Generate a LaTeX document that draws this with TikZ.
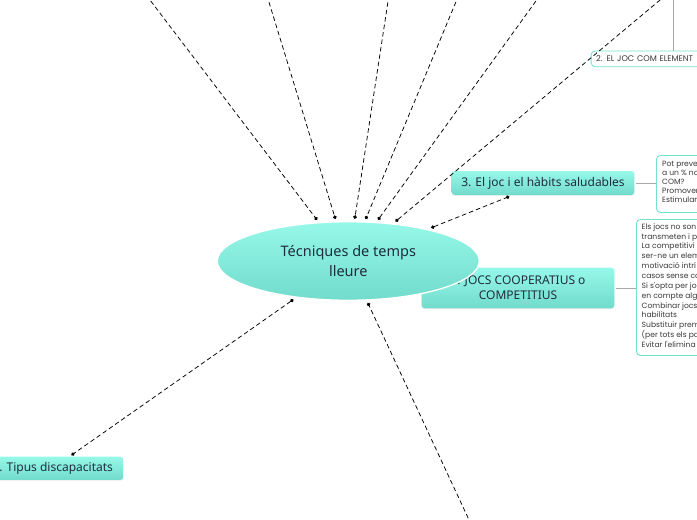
\documentclass[tikz,border=0pt]{standalone}
\usepackage{fontspec}
\setmainfont{Noto Sans}
\newfontfamily\smallfont{Poppins}
\usetikzlibrary{shapes.geometric,arrows.meta,shadows}
\definecolor{tqtop}{HTML}{96F8E8}
\definecolor{tqbot}{HTML}{72DBCC}
\definecolor{tqline}{HTML}{6FE3D0}
\definecolor{txtdark}{HTML}{1F2E3E}
\definecolor{notetxt}{HTML}{3A3A3A}
\definecolor{greyline}{HTML}{A8A8A8}
\begin{document}
\begin{tikzpicture}[x=1pt,y=-1pt,
  tqbox/.style={rectangle, rounded corners=3pt, top color=tqtop, bottom color=tqbot,
    draw=none, text=txtdark, inner sep=0pt, outer sep=1.5pt,
    font=\fontsize{12}{15}\selectfont,
    drop shadow={shadow xshift=0pt,shadow yshift=-1pt,opacity=0.12}},
  notebox/.style={rectangle, rounded corners=4pt, draw=tqline, line width=0.9pt,
    fill=white, anchor=north west, inner sep=0pt},
  notetext/.style={anchor=north west, inner sep=0pt, align=left, text=notetxt},
  conn/.style={draw=black, line width=0.75pt, dash pattern=on 4.5pt off 3pt},
  dotend/.style={-{Circle[length=3.6pt]}},
  dotboth/.style={{Circle[length=3.6pt]}-{Circle[length=3.6pt]}},
  greyl/.style={draw=greyline, line width=0.9pt}]
\useasboundingbox (0,0) rectangle (697,520);

% note boxes on the right
\node[notebox, minimum width=120pt, minimum height=57pt] (boxA) at (656,155) {};
\node[notetext, font=\smallfont\fontsize{7.6}{9.1}\selectfont] (textA) at (662,160.5)
  {Pot preve\\a un \% no\\COM?\\Promover\\Estimular};
\node[notebox, minimum width=120pt, minimum height=136pt] (boxB) at (636,219) {};
\node[notetext, font=\smallfont\fontsize{7.6}{9.85}\selectfont] (textB) at (641.5,223.3)
  {Els jocs no son\\transmeten i p\\La competitivi\\ser-ne un elem\\motivació intrí\\casos sense co\\Si s'opta per jo\\en compte alg\\Combinar jocs\\habilitats\\Substituir prem\\(per tots els pa\\Evitar l'elimina};

% top right box
\node[notebox, anchor=west, minimum height=15.7pt, text width=140pt, align=left,
  inner xsep=5pt, font=\smallfont\fontsize{8.2}{9}\selectfont, text=notetxt]
  (el2) at (590.7,58.85) {2. EL JOC COM ELEMENT};
\coordinate (g2) at (673.3,-2);
\draw[greyl] (g2) -- (g2 |- el2.north);

% branch boxes
\node[tqbox, minimum width=182.6pt, minimum height=24pt] (jocB) at (543,183)
  {3. El joc i el hàbits saludables};
\node[tqbox, minimum width=192.6pt, minimum height=40.6pt, align=center] (jocs) at (518,288)
  {4. JOCS COOPERATIUS o\\COMPETITIUS};
\node[tqbox, minimum width=141pt, minimum height=23.3pt] (tipus) at (52.7,468.3)
  {1. Tipus discapacitats};

\draw[greyl] (jocB.east) -- (jocB.east -| boxA.west);
\draw[greyl] (jocs.east) -- (jocs.east -| boxB.west);

% central topic
\node[ellipse, minimum width=262pt, minimum height=78.5pt, inner sep=0pt,
  top color=tqtop, bottom color=tqbot, draw=white, line width=1.3pt,
  outer sep=3pt, align=center, text=txtdark,
  font=\fontsize{14.5}{20}\selectfont] (c) at (348.3,261)
  {Técniques de temps\\lleure};

% free ends of connectors leaving the picture
\coordinate (t1) at (146.2,-5);
\coordinate (t2) at (266.8,-5);
\coordinate (t3) at (389,-5);
\coordinate (t4) at (458.8,-5);
\coordinate (t5) at (540.3,-5);
\coordinate (t6) at (666,-5);
\coordinate (b1) at (471.4,525);

\draw[conn, dotend] (t1) -- (c);
\draw[conn, dotend] (t2) -- (c);
\draw[conn, dotend] (t3) -- (c);
\draw[conn, dotend] (t4) -- (c);
\draw[conn, dotend] (t5) -- (c);
\draw[conn, dotend] (t6) -- (c);
\draw[conn, dotend] (b1) -- (c);
\draw[conn, dotboth] (c) -- (jocB);
\draw[conn, dotboth] (c) -- (tipus);
\end{tikzpicture}
\end{document}
